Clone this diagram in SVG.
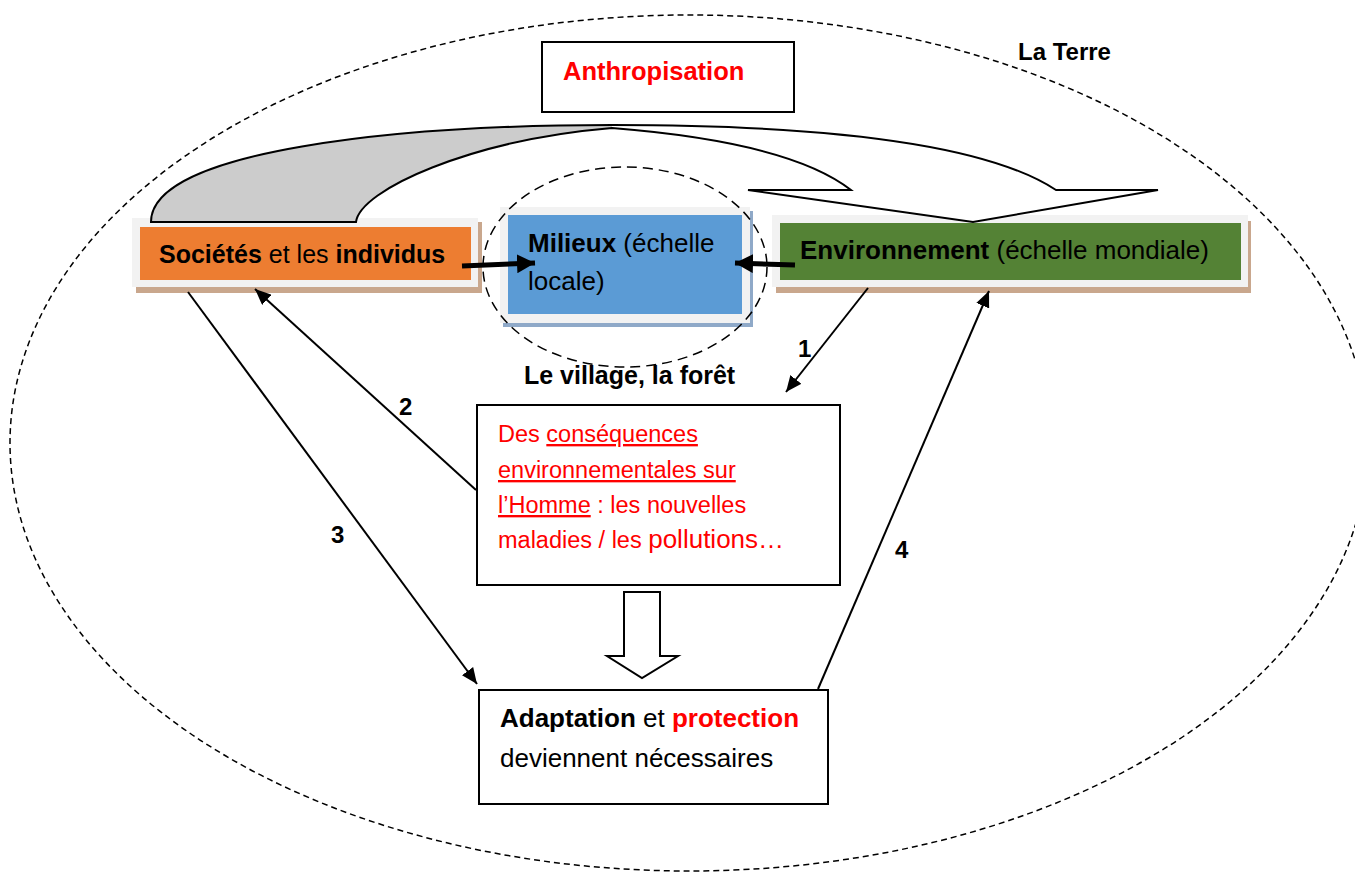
<svg xmlns="http://www.w3.org/2000/svg" width="1355" height="872" viewBox="0 0 1355 872">
<style>
text{font-family:"Liberation Sans",Arial,sans-serif;fill:#000}
.b{font-weight:bold}
.red{fill:#ff0000}
.box{fill:#fff;stroke:#000;stroke-width:2}
.frame{fill:#f2f2f2}
.tan{fill:#c9a78d}
.con{stroke:#000;stroke-width:2;fill:none;marker-end:url(#ah)}
.bold{stroke:#000;stroke-width:5;fill:none;marker-end:url(#ahb)}
.u{text-decoration:underline}
</style>
<defs>
<marker id="ah" markerUnits="userSpaceOnUse" markerWidth="17" markerHeight="14" refX="16" refY="7" orient="auto"><path d="M0,0 L16,7 L0,14 z" fill="#000"/></marker>
<marker id="ahb" markerUnits="userSpaceOnUse" markerWidth="19" markerHeight="19" refX="18" refY="9.5" orient="auto"><path d="M0,0 L18,9.5 L0,19 z" fill="#000"/></marker>
<path id="ribbon" d="M151,222 C151,150 400,125 612,125 C800,125 980,140 1056,190 L1158,190 L973,222 L748,190 L851,190 C800,150 700,135 612,128 C470,140 360,190 356,222 Z"/>
</defs>

<g id="terre">
<ellipse cx="689" cy="443" rx="679" ry="428" fill="none" stroke="#000" stroke-width="1.5" stroke-dasharray="6,4"/>
<text x="1018" y="60" class="b" font-size="24">La Terre</text>
</g>

<g id="anthropisation">
<rect x="542" y="42" width="252" height="70" class="box"/>
<text x="563" y="80" class="b red" font-size="25.5">Anthropisation</text>
</g>

<g id="societes">
<rect x="136" y="222" width="346" height="71" class="tan"/>
<rect x="132" y="218" width="346" height="69" class="frame"/>
<rect x="140" y="227" width="331" height="53" fill="#ed7d31"/>
<text x="159" y="263" font-size="25"><tspan class="b">Sociétés</tspan> et les <tspan class="b">individus</tspan></text>
</g>

<g id="milieux">
<rect x="503" y="211" width="250" height="116" fill="#8fa9c8"/>
<rect x="500" y="207" width="250" height="116" class="frame"/>
<rect x="508" y="215" width="234" height="99" fill="#5b9bd5"/>
<text x="528" y="252" font-size="26"><tspan class="b">Milieux</tspan> (échelle</text>
<text x="528" y="290" font-size="26">locale)</text>
</g>

<g id="village">
<ellipse cx="625" cy="267" rx="142" ry="100" fill="none" stroke="#000" stroke-width="1.5" stroke-dasharray="10,6"/>
<text x="524" y="384" class="b" font-size="25">Le village, la forêt</text>
</g>

<g id="environnement">
<rect x="776" y="221" width="475" height="72" class="tan"/>
<rect x="772" y="215" width="476" height="72" class="frame"/>
<rect x="780" y="223" width="461" height="57" fill="#548235"/>
<text x="800" y="259" font-size="26"><tspan class="b">Environnement</tspan> (échelle mondiale)</text>
</g>

<g id="curved-arrow">
<use href="#ribbon" fill="#fff" stroke="none"/>
<path d="M151,222 C151,150 400,125 612,125 L612,128 C470,140 360,190 356,222 Z" fill="#cccccc" stroke="none"/>
<use href="#ribbon" fill="none" stroke="#000" stroke-width="2"/>
</g>

<g id="consequences">
<rect x="477" y="405" width="363" height="180" class="box"/>
<text x="498" y="442" font-size="23.5" class="red">Des <tspan class="u red">conséquences</tspan></text>
<text x="498" y="478" font-size="23.5" class="red u">environnementales sur</text>
<text x="498" y="513" font-size="23.5" class="red"><tspan class="u red">l’Homme</tspan> : les nouvelles</text>
<text x="498" y="548" font-size="23.5" class="red">maladies / les <tspan font-size="26">pollutions…</tspan></text>
</g>

<g id="hollow-arrow">
<path d="M624,592 L660,592 L660,656 L678,656 L642,678 L607,656 L624,656 Z" fill="#fff" stroke="#000" stroke-width="2"/>
</g>

<g id="adaptation">
<rect x="479" y="690" width="349" height="114" class="box"/>
<text x="500" y="727" font-size="26"><tspan class="b">Adaptation</tspan> et <tspan class="b red">protection</tspan></text>
<text x="500" y="767" font-size="26">deviennent nécessaires</text>
</g>

<g id="connectors">
<line x1="462" y1="266" x2="535" y2="263" class="bold"/>
<line x1="795" y1="265" x2="735" y2="263" class="bold"/>
<line x1="868" y1="288" x2="786" y2="392" class="con"/>
<line x1="476" y1="490" x2="255" y2="289" class="con"/>
<line x1="188" y1="292" x2="477" y2="684" class="con"/>
<line x1="818" y1="689" x2="989" y2="291" class="con"/>
<text x="798" y="357" class="b" font-size="24">1</text>
<text x="399" y="415" class="b" font-size="24">2</text>
<text x="331" y="543" class="b" font-size="24">3</text>
<text x="895" y="558" class="b" font-size="24">4</text>
</g>
</svg>
